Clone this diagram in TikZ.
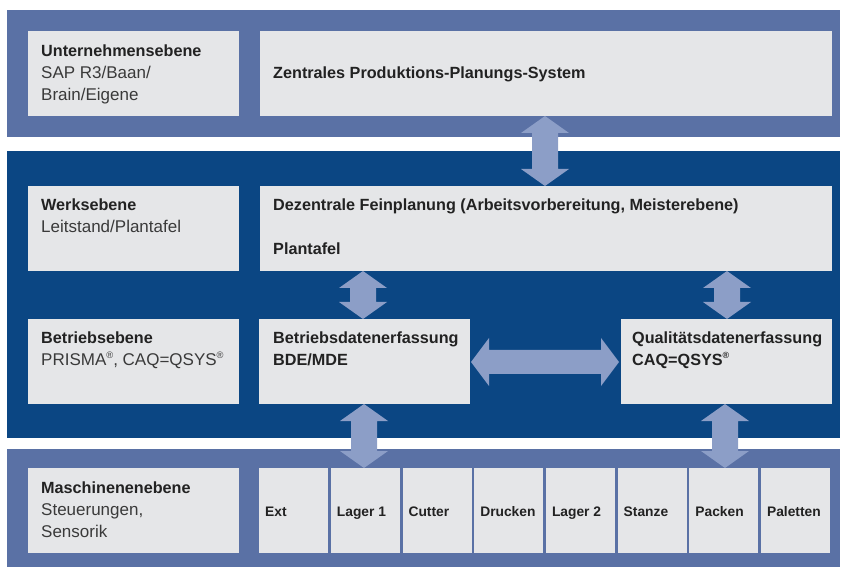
\documentclass[tikz,border=0pt]{standalone}
\usepackage{fontspec}
\setmainfont{Liberation Sans}
\definecolor{bandlight}{HTML}{5A71A5}
\definecolor{banddark}{HTML}{0B4683}
\definecolor{boxfill}{HTML}{E5E6E8}
\definecolor{arrowc}{HTML}{8C9EC7}
\definecolor{txtbold}{HTML}{222222}
\definecolor{txtreg}{HTML}{3A3A3A}
\tikzset{
  box/.style={fill=boxfill, draw=none, inner sep=0pt, anchor=north west},
  hd/.style={anchor=base west, inner sep=0pt, text=txtbold, font=\fontsize{16.2}{19}\selectfont\bfseries},
  rg/.style={anchor=base west, inner sep=0pt, text=txtreg, font=\fontsize{17}{20}\selectfont},
  sm/.style={anchor=base west, inner sep=0pt, text=txtbold, font=\fontsize{13.8}{16}\selectfont\bfseries},
}
% vertical double arrow: x, ytop, ybottom
\newcommand{\vdarrow}[3]{%
  \fill[arrowc] (#1,#2) -- (#1+24,#2+17) -- (#1+13,#2+17) -- (#1+13,#3-17) -- (#1+24,#3-17)
    -- (#1,#3) -- (#1-24,#3-17) -- (#1-13,#3-17) -- (#1-13,#2+17) -- (#1-24,#2+17) -- cycle;}
% horizontal double arrow: xleft, xright, y
\newcommand{\hdarrow}[3]{%
  \fill[arrowc] (#1,#3) -- (#1+18,#3-24) -- (#1+18,#3-12) -- (#2-18,#3-12) -- (#2-18,#3-24)
    -- (#2,#3) -- (#2-18,#3+24) -- (#2-18,#3+12) -- (#1+18,#3+12) -- (#1+18,#3+24) -- cycle;}
\newcommand{\regmark}{\raisebox{0.45em}{\scalebox{0.55}{\textregistered}}}
\begin{document}
\begin{tikzpicture}[x=1pt,y=-1pt]
\useasboundingbox (0,0) rectangle (841,569);
% bands
\fill[bandlight] (7,10) rectangle (840,137);
\fill[banddark] (7,151) rectangle (840,438);
\fill[bandlight] (7,449) rectangle (840,567);
% top level
\node[box, minimum width=211pt, minimum height=85pt] (ue) at (28,31) {};
\node[box, minimum width=572pt, minimum height=85pt] (zps) at (260,31) {};
% Werksebene
\node[box, minimum width=211pt, minimum height=85pt] (we) at (28,186) {};
\node[box, minimum width=572pt, minimum height=85pt] (dez) at (260,186) {};
% Betriebsebene
\node[box, minimum width=211pt, minimum height=85pt] (be) at (28,319) {};
\node[box, minimum width=211pt, minimum height=85pt] (bde) at (259,319) {};
\node[box, minimum width=211pt, minimum height=85pt] (qde) at (621,319) {};
% Maschinenebene
\node[box, minimum width=211pt, minimum height=85pt] (me) at (28,468) {};
\foreach \i/\nm/\lab in {0/ext/Ext,1/lag1/Lager 1,2/cut/Cutter,3/dru/Drucken,4/lag2/Lager 2,5/sta/Stanze,6/pac/Packen,7/pal/Paletten}{
  \node[box, minimum width=69pt, minimum height=85pt] (\nm) at (259+\i*71.7,468) {};
  \node[sm] (\nm-t) at ([xshift=6pt,yshift=-48pt]\nm.north west) {\lab};
}
% texts
\node[hd] (t1) at (41,57) {Unternehmensebene};
\node[rg] (t2) at (41,79) {SAP R3/Baan/};
\node[rg] (t3) at (41,101) {Brain/Eigene};
\node[hd] (t4) at (273,79) {Zentrales Produktions-Planungs-System};
\node[hd] (t5) at (41,211) {Werksebene};
\node[rg] (t6) at (41,233) {Leitstand/Plantafel};
\node[hd] (t7) at (273,211) {Dezentrale Feinplanung (Arbeitsvorbereitung, Meisterebene)};
\node[hd] (t8) at (273,255) {Plantafel};
\node[hd] (t9) at (41,344) {Betriebsebene};
\node[rg] (t10) at (41,366) {PRISMA\regmark, CAQ=QSYS\regmark};
\node[hd] (t11) at (273,344) {Betriebsdatenerfassung};
\node[hd] (t12) at (273,366) {BDE/MDE};
\node[hd] (t13) at (632,344) {Qualitätsdatenerfassung};
\node[hd] (t14) at (632,366) {CAQ=QSYS\regmark};
\node[hd] (t15) at (41,493) {Maschinenenebene};
\node[rg] (t16) at (41,515) {Steuerungen,};
\node[rg] (t17) at (41,537) {Sensorik};
% arrows
\vdarrow{545}{116}{186}
\vdarrow{363}{271}{319}
\vdarrow{727}{271}{319}
\hdarrow{471}{619}{362}
\vdarrow{364}{404}{468}
\vdarrow{725}{404}{468}
\end{tikzpicture}
\end{document}
